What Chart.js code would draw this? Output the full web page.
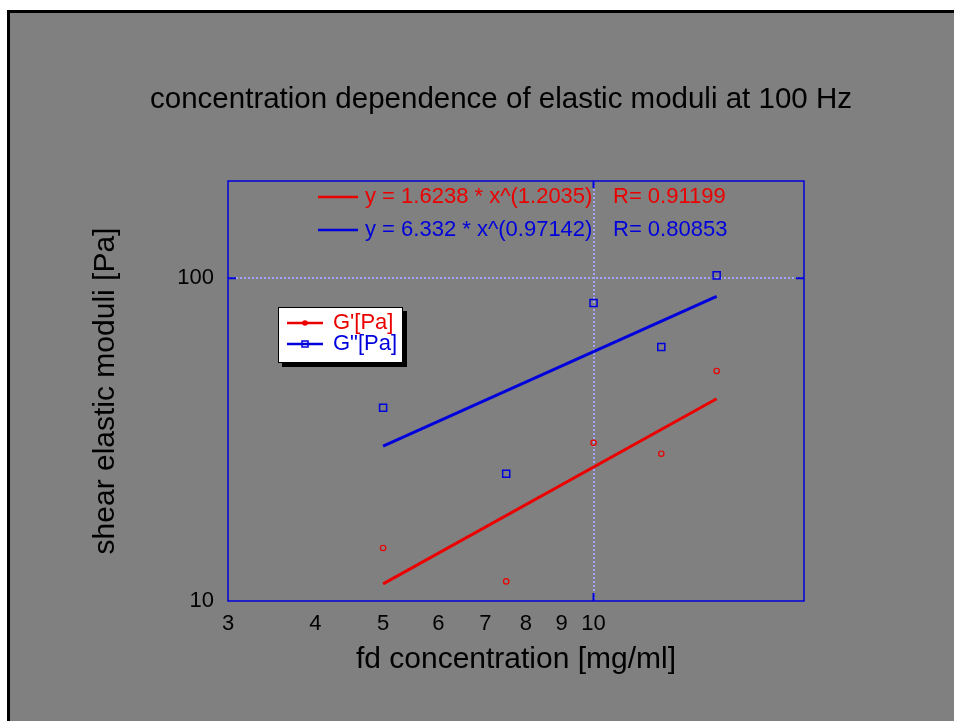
<!DOCTYPE html>
<html>
<head>
<meta charset="utf-8">
<script src="https://cdn.jsdelivr.net/npm/chart.js@4/dist/chart.umd.min.js"></script>
<style>
  html, body { margin: 0; padding: 0; background: #ffffff; }
  #wrap { position: relative; width: 954px; height: 721px; }
</style>
</head>
<body>
<div id="wrap"><canvas id="c"></canvas></div>
<script>
// ---- data ----
const concentrations = [5, 7.5, 10, 12.5, 15];          // fd concentration [mg/ml]
const gPrime = [14.6, 11.5, 30.9, 28.6, 51.6];          // G'[Pa]
const gDoublePrime = [39.7, 24.8, 83.8, 61.2, 102];     // G"[Pa]
const fitX = [5, 15];                                   // fit line end points
const fitGPrime = [11.3, 42.3];
const fitGDoublePrime = [30.2, 87.9];
const xTickValues = [3, 4, 5, 6, 7, 8, 9, 10];
const yTickValues = [10, 100];
const xRange = [3, 20];
const yRange = [10, 200];
const seriesNames = ["G'[Pa]", 'G"[Pa]'];
const fitEquations = ['y = 1.6238 * x^(1.2035)', 'y = 6.332 * x^(0.97142)'];
const fitR = ['R= 0.91199', 'R= 0.80853'];
const chartTitle = 'concentration dependence of elastic moduli at 100 Hz';
const xTitle = 'fd concentration [mg/ml]';
const yTitle = 'shear elastic moduli [Pa]';

const RED = 'rgb(235,0,0)';
const BLUE = 'rgb(0,0,220)';
const FONT = '"Liberation Sans", Arial, sans-serif';

const toXY = (xs, ys) => xs.map((x, i) => ({ x: x, y: ys[i] }));

const decorPlugin = {
  id: 'decor',
  beforeDraw(chart) {
    const ctx = chart.ctx;
    ctx.save();
    ctx.fillStyle = '#ffffff';
    ctx.fillRect(0, 0, chart.width, chart.height);
    ctx.fillStyle = '#808080';
    ctx.fillRect(7, 10, chart.width - 7, chart.height - 10);
    ctx.strokeStyle = '#000000';
    ctx.lineWidth = 3;
    ctx.beginPath();
    ctx.moveTo(8.5, chart.height);
    ctx.lineTo(8.5, 11.5);
    ctx.lineTo(chart.width, 11.5);
    ctx.stroke();
    // title
    ctx.fillStyle = '#000000';
    ctx.font = '29.5px ' + FONT;
    ctx.textAlign = 'center';
    ctx.textBaseline = 'middle';
    ctx.fillText(chartTitle, 501, 100);
    ctx.restore();
  },
  afterDraw(chart) {
    const ctx = chart.ctx;
    const a = chart.chartArea;
    const xs = chart.scales.x, ys = chart.scales.y;
    ctx.save();
    // plot frame
    ctx.strokeStyle = BLUE;
    ctx.lineWidth = 1.5;
    ctx.strokeRect(a.left, a.top, a.right - a.left, a.bottom - a.top);
    // inner tick marks
    ctx.lineWidth = 2;
    const x10 = xs.getPixelForValue(10);
    const y100 = ys.getPixelForValue(100);
    ctx.beginPath();
    ctx.moveTo(x10, a.bottom); ctx.lineTo(x10, a.bottom - 8);
    ctx.moveTo(x10, a.top); ctx.lineTo(x10, a.top + 7);
    ctx.moveTo(a.left, y100); ctx.lineTo(a.left + 8, y100);
    ctx.moveTo(a.right, y100); ctx.lineTo(a.right - 8, y100);
    ctx.stroke();

    // fit equations
    ctx.font = '22px ' + FONT;
    ctx.textBaseline = 'middle';
    ctx.textAlign = 'left';
    const eqCols = [RED, BLUE];
    const eqY = [a.top + 16, a.top + 49];
    for (let i = 0; i < 2; i++) {
      ctx.strokeStyle = eqCols[i];
      ctx.lineWidth = 2.5;
      ctx.beginPath();
      ctx.moveTo(a.left + 90, eqY[i]); ctx.lineTo(a.left + 130, eqY[i]);
      ctx.stroke();
      ctx.fillStyle = eqCols[i];
      ctx.fillText(fitEquations[i], a.left + 137, eqY[i]);
      ctx.fillText(fitR[i], a.left + 385, eqY[i]);
    }

    // legend box
    const lx = a.left + 50, ly = a.top + 126, lw = 125, lh = 56;
    ctx.fillStyle = '#000000';
    ctx.fillRect(lx + 4, ly + 4, lw, lh);
    ctx.fillStyle = '#ffffff';
    ctx.fillRect(lx, ly, lw, lh);
    ctx.strokeStyle = '#000000';
    ctx.lineWidth = 1;
    ctx.strokeRect(lx + 0.5, ly + 0.5, lw - 1, lh - 1);
    const rowY = [ly + 16, ly + 37];
    for (let i = 0; i < 2; i++) {
      ctx.strokeStyle = eqCols[i];
      ctx.lineWidth = 2.5;
      ctx.beginPath();
      ctx.moveTo(lx + 9, rowY[i]); ctx.lineTo(lx + 45, rowY[i]);
      ctx.stroke();
      if (i === 0) {
        ctx.fillStyle = RED;
        ctx.beginPath();
        ctx.arc(lx + 27, rowY[i], 2.8, 0, Math.PI * 2);
        ctx.fill();
      } else {
        ctx.lineWidth = 1.5;
        ctx.strokeRect(lx + 24, rowY[i] - 3, 6, 6);
      }
      ctx.fillStyle = eqCols[i];
      ctx.font = '22px ' + FONT;
      ctx.fillText(seriesNames[i], lx + 55, rowY[i]);
    }
    ctx.restore();
  }
};

const gridColor = '#a4a4ff';

new Chart(document.getElementById('c'), {
  type: 'scatter',
  data: {
    datasets: [
      { label: 'fit G\'', data: toXY(fitX, fitGPrime), showLine: true, borderColor: RED,
        borderWidth: 3, pointRadius: 0, fill: false },
      { label: 'fit G"', data: toXY(fitX, fitGDoublePrime), showLine: true, borderColor: BLUE,
        borderWidth: 3, pointRadius: 0, fill: false },
      { label: seriesNames[0], data: toXY(concentrations, gPrime), showLine: false,
        pointStyle: 'circle', pointRadius: 2.7, borderWidth: 1.2, borderColor: RED,
        backgroundColor: 'rgba(0,0,0,0)' },
      { label: seriesNames[1], data: toXY(concentrations, gDoublePrime), showLine: false,
        pointStyle: 'rect', pointRadius: 5, borderWidth: 1.5, borderColor: BLUE,
        backgroundColor: 'rgba(0,0,0,0)' }
    ]
  },
  options: {
    responsive: true,
    maintainAspectRatio: false,
    animation: false,
    layout: { padding: { left: 0, right: 150, top: 181, bottom: 0 } },
    plugins: { legend: { display: false }, tooltip: { enabled: false }, title: { display: false } },
    scales: {
      x: {
        type: 'logarithmic',
        min: xRange[0], max: xRange[1],
        afterBuildTicks: (s) => { s.ticks = xTickValues.map(v => ({ value: v })); },
        afterFit: (s) => { s.height = 120; },
        border: { display: false, dash: [2, 2] },
        grid: {
          drawTicks: false,
          color: (c) => (c.tick && c.tick.value === 10 ? gridColor : 'rgba(0,0,0,0)'),
          lineWidth: 2
        },
        ticks: {
          autoSkip: false, maxRotation: 0, padding: 10,
          color: '#000000', font: { family: FONT, size: 22 },
          callback: (v) => String(v)
        },
        title: {
          display: true, text: xTitle, color: '#000000',
          font: { family: FONT, size: 30 }, padding: { top: 0, bottom: 43 }
        }
      },
      y: {
        type: 'logarithmic',
        min: yRange[0], max: yRange[1],
        afterBuildTicks: (s) => { s.ticks = yTickValues.map(v => ({ value: v })); },
        afterFit: (s) => { s.width = 228; },
        border: { display: false, dash: [2, 2] },
        grid: {
          drawTicks: false,
          color: (c) => (c.tick && c.tick.value === 100 ? gridColor : 'rgba(0,0,0,0)'),
          lineWidth: 2
        },
        ticks: {
          autoSkip: false, padding: 14,
          color: '#000000', font: { family: FONT, size: 22 },
          callback: (v) => String(v)
        },
        title: {
          display: true, text: yTitle, color: '#000000',
          font: { family: FONT, size: 30 }, padding: { top: 88, bottom: 0 }
        }
      }
    }
  },
  plugins: [decorPlugin]
});
</script>
</body>
</html>
